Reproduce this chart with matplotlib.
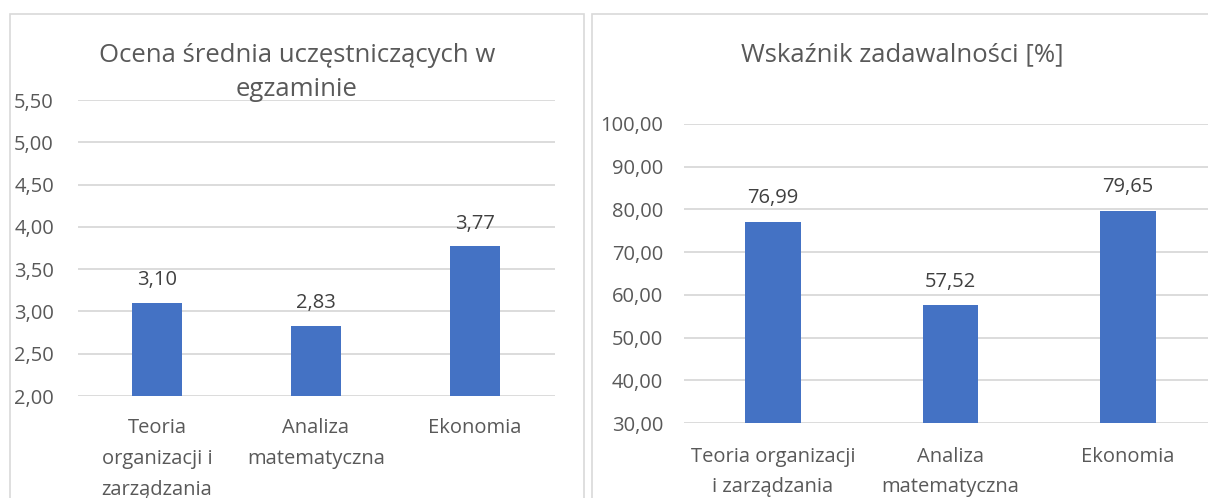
import matplotlib
matplotlib.use("Agg")
import matplotlib.pyplot as plt
from matplotlib.ticker import FuncFormatter, MultipleLocator
from matplotlib.patches import Rectangle

plt.rcParams['font.family'] = ['Open Sans', 'DejaVu Sans']

# Data
left_title = "Ocena średnia uczęstniczących w\negzaminie"
left_categories = ["Teoria\norganizacji i\nzarządzania", "Analiza\nmatematyczna", "Ekonomia"]
left_values = [3.10, 2.83, 3.77]

right_title = "Wskaźnik zadawalności [%]"
right_categories = ["Teoria organizacji\ni zarządzania", "Analiza\nmatematyczna", "Ekonomia"]
right_values = [76.99, 57.52, 79.65]

W, H = 1208, 498
fig = plt.figure(figsize=(W / 100, H / 100), dpi=100)

BAR = "#4472C4"
GRID = "#d9d9d9"
TICK = "#595959"
LABEL = "#404040"

def fx(px):
    return px / W

def fy(py):
    return 1 - py / H

# panel borders
fig.patches.append(Rectangle((fx(9.5), fy(520)), fx(584) - fx(9.5), fy(14.5) - fy(520),
                             transform=fig.transFigure, fill=False, edgecolor=GRID, lw=1.2))
fig.patches.append(Rectangle((fx(591.5), fy(520)), fx(1240) - fx(591.5), fy(14.5) - fy(520),
                             transform=fig.transFigure, fill=False, edgecolor=GRID, lw=1.2))

def comma(v, pos=None):
    return f"{v:.2f}".replace(".", ",")

def make(ax, cats, vals, ylim, step, label_off, pads, bw):
    x = list(range(len(cats)))
    ax.bar(x, vals, width=bw, color=BAR, zorder=3)
    ax.set_xlim(-0.5, len(cats) - 0.5)
    ax.set_ylim(*ylim)
    ax.yaxis.set_major_locator(MultipleLocator(step))
    ax.yaxis.set_major_formatter(FuncFormatter(comma))
    ax.grid(axis='y', color=GRID, lw=1.3, zorder=0)
    for s in ax.spines.values():
        s.set_visible(False)
    ax.tick_params(axis='both', length=0, colors=TICK)
    ax.tick_params(axis='y', pad=pads[0], labelsize=14.5)
    ax.tick_params(axis='x', pad=pads[1], labelsize=14.5)
    ax.set_xticks(x)
    ax.set_xticklabels(cats, linespacing=1.72)
    for xi, v in zip(x, vals):
        ax.annotate(comma(v), (xi, v), xytext=(0, label_off), textcoords='offset points',
                    ha='center', va='bottom', fontsize=14.5, color=LABEL)

ax1 = fig.add_axes([fx(77.5), fy(396), fx(554.5) - fx(77.5), fy(100) - fy(396)])
make(ax1, left_categories, left_values, (2.0, 5.5), 0.5, 9, (17, 16), 0.31)

ax2 = fig.add_axes([fx(684), fy(423), fx(1217) - fx(684), fy(124) - fy(423)])
make(ax2, right_categories, right_values, (30, 100), 10, 10, (15, 17), 0.315)

fig.text(fx(297), fy(55), "Ocena średnia uczęstniczących w", ha='center', va='center',
         fontsize=18.5, color=TICK)
fig.text(fx(297), fy(90), "egzaminie", ha='center', va='center', fontsize=18.5, color=TICK)
fig.text(fx(902), fy(55), right_title, ha='center', va='center', fontsize=18.5, color=TICK)

fig.savefig("out.png", dpi=100, facecolor="white")
